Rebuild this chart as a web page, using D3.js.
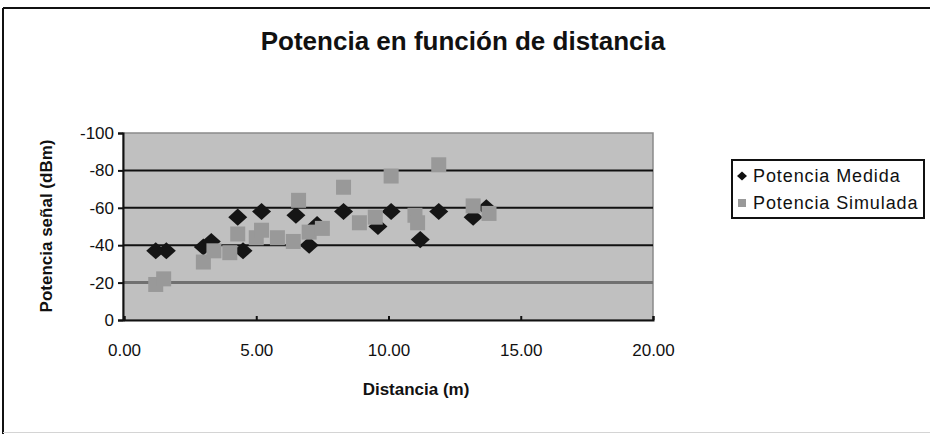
<!DOCTYPE html>
<html>
<head>
<meta charset="utf-8">
<script src="https://cdn.jsdelivr.net/npm/d3@7/dist/d3.min.js"></script>
<style>
  html, body { margin: 0; padding: 0; background: #ffffff; }
  svg { display: block; font-family: "Liberation Sans", Arial, sans-serif; }
</style>
</head>
<body>
<svg id="chart" width="930" height="434"></svg>
<script>
// Measured signal power versus distance
const medidaDist = [1.2, 1.6, 3.0, 3.3, 4.3, 4.5, 5.2, 6.5, 7.0, 7.3, 8.3, 9.6, 10.1, 11.2, 11.9, 13.2, 13.7];
const medidaPot  = [-37, -37, -39, -42, -55, -37, -58, -56, -40, -51, -58, -50, -58, -43, -58, -55, -60];

// Simulated signal power versus distance
const simDist = [1.2, 1.5, 3.0, 3.4, 4.0, 4.3, 5.0, 5.2, 5.8, 6.4, 6.6, 7.0, 7.5, 8.3, 8.9, 9.5, 10.1, 11.0, 11.1, 11.9, 13.2, 13.8];
const simPot  = [-19, -22, -31, -37, -36, -46, -44, -48, -44, -42, -64, -47, -49, -71, -52, -55, -77, -56, -52, -83, -61, -57];

const xTicks = [0, 5, 10, 15, 20];
const yTicks = [0, -20, -40, -60, -80, -100];
const seriesNames = ["Potencia Medida", "Potencia Simulada"];

const svg = d3.select("#chart");

const plot = { left: 123, right: 653, top: 133, bottom: 320 };

const x = d3.scaleLinear().domain([0, 20]).range([plot.left + 1, plot.right]);
const y = d3.scaleLinear().domain([0, -100]).range([plot.bottom, plot.top]);

// wide diamond marker: size is the half-width in px
const wideDiamond = {
  draw(ctx, size) {
    const w = size, h = size * 0.9;
    ctx.moveTo(0, -h);
    ctx.lineTo(w, 0);
    ctx.lineTo(0, h);
    ctx.lineTo(-w, 0);
    ctx.closePath();
  }
};

// chart frame
svg.append("line").attr("x1", 3).attr("x2", 930).attr("y1", 8).attr("y2", 8)
  .attr("stroke", "#111").attr("stroke-width", 2);
svg.append("line").attr("x1", 3).attr("x2", 3).attr("y1", 8).attr("y2", 434)
  .attr("stroke", "#111").attr("stroke-width", 2);
svg.append("line").attr("x1", 3).attr("x2", 930).attr("y1", 432.5).attr("y2", 432.5)
  .attr("stroke", "#d4d4d4").attr("stroke-width", 1);

// title
svg.append("text")
  .attr("x", 463).attr("y", 50)
  .attr("text-anchor", "middle")
  .attr("font-size", 26).attr("font-weight", "bold").attr("fill", "#111")
  .text("Potencia en función de distancia");

// plot background
svg.append("rect")
  .attr("x", plot.left).attr("y", plot.top)
  .attr("width", plot.right - plot.left).attr("height", plot.bottom - plot.top)
  .attr("fill", "#c0c0c0").attr("stroke", "#8a8a8a").attr("stroke-width", 1.5);

// horizontal gridlines
svg.append("g").selectAll("line")
  .data(yTicks.filter(v => v !== 0 && v !== -100))
  .join("line")
  .attr("x1", plot.left).attr("x2", plot.right)
  .attr("y1", d => y(d)).attr("y2", d => y(d))
  .attr("stroke", d => d === -20 ? "#707070" : "#111")
  .attr("stroke-width", d => d === -20 ? 3 : 2);

// y axis
const yAxis = d3.axisLeft(y).tickValues(yTicks).tickFormat(d => String(d)).tickSize(5).tickPadding(4);
const gy = svg.append("g").attr("transform", `translate(${plot.left},0)`).call(yAxis);
gy.select(".domain").attr("stroke", "#111").attr("stroke-width", 2);
gy.selectAll(".tick line").attr("stroke", "#111").attr("stroke-width", 2);
gy.selectAll(".tick text").attr("font-size", 17).attr("fill", "#111")
  .attr("font-family", "Liberation Sans, Arial, sans-serif");

// x axis (ticks point into the plot)
const xAxis = d3.axisBottom(x).tickValues(xTicks).tickFormat(d => d.toFixed(2)).tickSize(-4).tickPadding(24);
const gx = svg.append("g").attr("transform", `translate(0,${plot.bottom})`).call(xAxis);
gx.select(".domain").attr("stroke", "#111").attr("stroke-width", 2);
gx.selectAll(".tick line").attr("stroke", "#111").attr("stroke-width", 2);
gx.selectAll(".tick text").attr("font-size", 17).attr("fill", "#111")
  .attr("font-family", "Liberation Sans, Arial, sans-serif");

// axis titles
svg.append("text")
  .attr("transform", "translate(52,226) rotate(-90)")
  .attr("text-anchor", "middle")
  .attr("font-size", 17).attr("font-weight", "bold").attr("fill", "#111")
  .text("Potencia señal (dBm)");
svg.append("text")
  .attr("x", 416).attr("y", 395)
  .attr("text-anchor", "middle")
  .attr("font-size", 17).attr("font-weight", "bold").attr("fill", "#111")
  .text("Distancia (m)");

// markers
const diamond = d3.symbol().type(wideDiamond).size(9.5);
const medida = medidaDist.map((d, i) => ({ d, p: medidaPot[i] }));
const simulada = simDist.map((d, i) => ({ d, p: simPot[i] }));

svg.append("g").selectAll("path")
  .data(medida)
  .join("path")
  .attr("transform", v => `translate(${x(v.d)},${y(v.p)})`)
  .attr("d", diamond)
  .attr("fill", "#151515");

svg.append("g").selectAll("rect")
  .data(simulada)
  .join("rect")
  .attr("x", v => x(v.d) - 7.5).attr("y", v => y(v.p) - 7.5)
  .attr("width", 15).attr("height", 15)
  .attr("fill", "#999999");

// legend
const lg = svg.append("g");
lg.append("rect").attr("x", 732).attr("y", 160).attr("width", 192).attr("height", 58)
  .attr("fill", "#fff").attr("stroke", "#111").attr("stroke-width", 2);
lg.append("path").attr("transform", "translate(742,176)")
  .attr("d", d3.symbol().type(wideDiamond).size(5)).attr("fill", "#111");
lg.append("rect").attr("x", 738).attr("y", 199).attr("width", 8).attr("height", 8).attr("fill", "#999");
lg.selectAll("text").data(seriesNames).join("text")
  .attr("x", 753).attr("y", (d, i) => 182 + i * 27)
  .attr("font-size", 18).attr("letter-spacing", 0.9).attr("fill", "#111")
  .text(d => d);
</script>
</body>
</html>
